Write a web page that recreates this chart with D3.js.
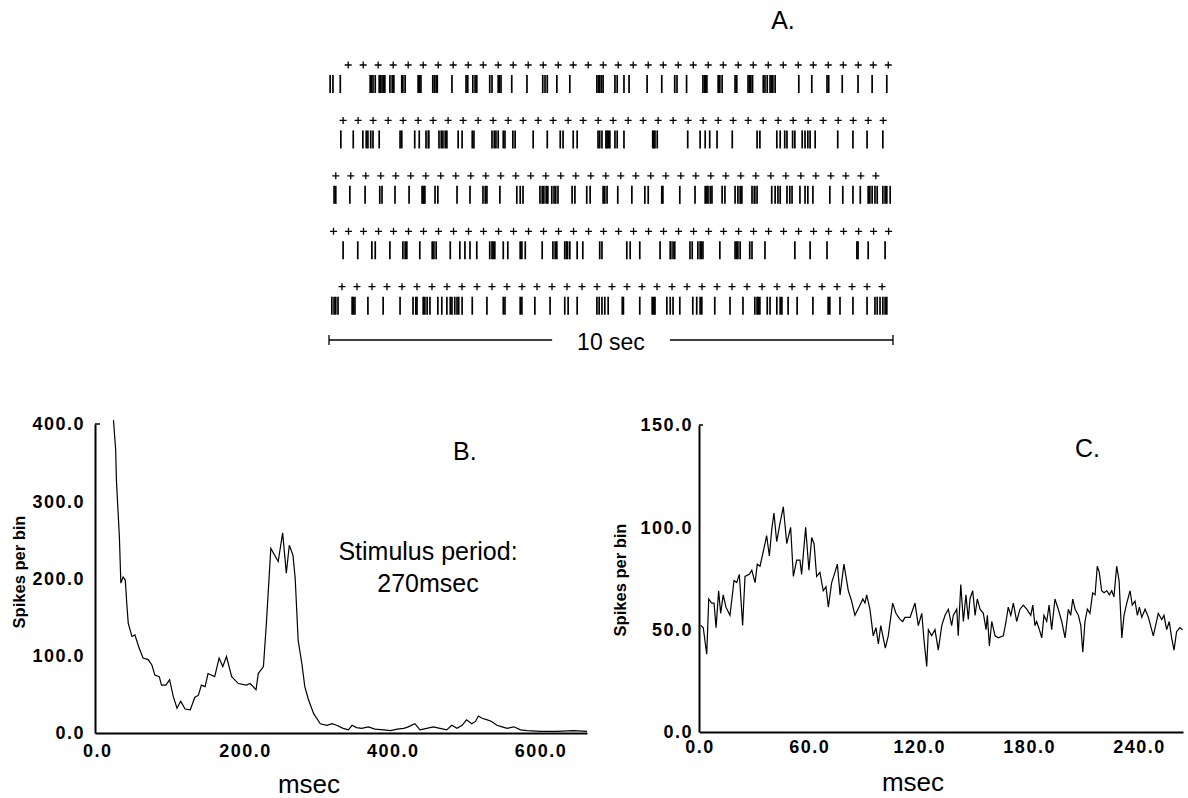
<!DOCTYPE html>
<html>
<head>
<meta charset="utf-8">
<script src="https://cdn.jsdelivr.net/npm/d3@7"></script>
<style>
  html, body { margin: 0; padding: 0; background: #fff; }
  svg { display: block; }
  text { font-family: "Liberation Sans", Arial, Helvetica, sans-serif; fill: #000; }
</style>
</head>
<body>
<svg id="fig" width="1188" height="798"></svg>
<script>
// ---- A. spike raster: five 10-second sweeps (spike times in seconds) ----
const spikesTrial1 = [0.02,0.07,0.20,0.73,0.75,0.78,0.82,0.89,0.91,0.94,0.97,0.99,1.08,1.12,1.15,1.29,1.31,1.35,1.58,1.60,1.63,1.84,1.87,1.90,1.92,2.18,2.43,2.46,2.55,2.59,2.62,2.85,2.89,3.00,3.02,3.05,3.24,3.51,3.79,3.83,3.87,4.04,4.27,4.75,4.78,4.80,4.83,4.86,5.07,5.11,5.23,5.32,5.64,5.90,6.13,6.17,6.34,6.63,6.66,6.68,6.70,6.90,6.93,6.97,7.20,7.23,7.43,7.46,7.48,7.51,7.70,7.73,7.77,7.82,7.85,7.87,7.91,8.33,8.56,8.83,8.86,9.10,9.38,9.63,9.89];
const spikesTrial2 = [0.21,0.43,0.60,0.66,0.69,0.74,0.78,0.89,1.26,1.29,1.52,1.60,1.72,1.76,1.77,1.95,1.99,2.02,2.06,2.09,2.29,2.36,2.54,2.57,2.89,2.93,2.96,3.00,3.09,3.12,3.26,3.30,3.62,3.87,4.10,4.15,4.33,4.40,4.77,4.80,4.84,4.91,4.93,4.95,4.98,5.07,5.11,5.23,5.74,5.76,5.78,5.82,6.36,6.58,6.67,6.75,6.88,7.15,7.59,7.64,7.94,8.00,8.08,8.12,8.22,8.26,8.39,8.44,8.49,8.53,8.62,9.02,9.29,9.54,9.82];
const spikesTrial3 = [0.09,0.12,0.37,0.64,0.90,0.94,1.17,1.42,1.65,1.67,1.68,1.70,1.88,1.93,2.27,2.50,2.73,2.77,2.80,3.03,3.33,3.39,3.44,3.74,3.78,3.81,3.85,3.88,3.95,3.99,4.02,4.06,4.31,4.36,4.57,4.63,4.86,4.89,4.93,5.12,5.37,5.60,5.66,5.90,5.92,6.22,6.49,6.67,6.70,6.72,6.76,6.79,6.97,7.02,7.20,7.25,7.29,7.32,7.50,7.54,7.55,7.59,7.85,7.91,7.96,8.00,8.12,8.17,8.21,8.35,8.44,8.49,8.58,8.88,9.11,9.29,9.42,9.56,9.59,9.63,9.68,9.72,9.82,9.86,9.89,9.95];
const spikesTrial4 = [0.25,0.51,0.76,0.82,1.08,1.31,1.35,1.38,1.61,1.83,1.86,1.90,2.15,2.32,2.41,2.50,2.62,2.85,2.89,2.91,2.94,3.09,3.17,3.39,3.42,3.48,3.78,3.97,4.01,4.04,4.18,4.21,4.23,4.27,4.40,4.50,4.80,4.84,5.28,5.34,5.51,5.87,6.05,6.06,6.10,6.13,6.40,6.44,6.54,6.58,6.60,6.63,6.93,7.20,7.23,7.25,7.29,7.46,7.50,7.73,8.26,8.53,8.83,9.36,9.38,9.56,9.86];
const spikesTrial5 = [0.05,0.09,0.12,0.16,0.41,0.43,0.46,0.69,0.96,1.26,1.49,1.54,1.56,1.67,1.70,1.74,1.79,1.93,2.00,2.09,2.15,2.18,2.23,2.27,2.30,2.36,2.54,2.80,3.09,3.12,3.39,3.42,3.65,3.92,4.18,4.24,4.40,4.75,4.79,4.84,4.89,4.95,5.20,5.22,5.51,5.73,5.76,5.78,5.99,6.05,6.10,6.22,6.45,6.52,6.58,6.61,6.84,7.11,7.34,7.55,7.59,7.61,7.64,7.77,7.82,7.94,8.00,8.03,8.14,8.30,8.58,8.85,8.88,9.06,9.29,9.54,9.68,9.72,9.77,9.82,9.86,9.89];
const trials = [spikesTrial1, spikesTrial2, spikesTrial3, spikesTrial4, spikesTrial5];

// stimulus onsets per sweep: first onset (s), number of stimuli, interval (s)
const stimFirstOnset = [0.34, 0.25, 0.12, 0.08, 0.23];
const stimCount = [37, 37, 37, 38, 37];
const stimInterval = 0.266;

// ---- B. post-stimulus time histogram ----
const binMsB = [22,25,26,30,32,35,38,40,42,47,51,56,62,69,74,78,84,87,93,98,103,108,113,119,126,132,137,141,146,150,159,165,170,175,182,191,202,207,215,218,225,229,235,245,251,256,260,265,268,272,277,281,286,293,302,311,318,324,333,340,345,351,358,367,376,388,397,406,415,421,430,437,446,455,464,473,480,487,494,500,507,512,516,521,528,534,541,548,555,564,573,582,600,622,645,663];
const spikesPerBinB = [405,366,327,254,194,202,198,168,142,125,127,112,97,95,88,75,73,62,62,69,47,32,41,31,30,46,49,62,60,77,73,97,86,99,73,64,62,64,56,77,86,142,239,222,259,207,243,230,200,120,90,60,43,25,12,10,12,10,6,4,10,7,6,8,5,4,3,5,6,8,12,4,6,8,6,4,10,6,10,17,12,15,22,19,17,15,10,8,6,8,4,3,2,2,3,2];
const yTicksB = [0, 100, 200, 300, 400];
const xTicksB = [0, 200, 400, 600];

// ---- C. period histogram ----
const binMsC = [0.7,2.1,4.0,5.1,6.7,8.0,9.1,10.5,11.6,13.0,14.5,16.7,18.9,20.4,21.8,23.6,24.9,27.2,28.6,30.4,31.6,33.1,35.8,36.7,38.2,39.5,40.7,42.2,44.0,45.8,47.7,49.8,51.3,53.1,54.9,55.8,58.0,59.8,61.3,62.6,64.0,65.8,67.6,69.1,70.4,72.2,74.0,75.3,76.8,78.9,81.3,83.1,84.9,87.7,89.2,90.4,91.3,93.1,94.9,96.4,97.7,99.0,101.5,103.1,105.5,107.3,109.5,111.0,112.2,115.0,117.7,119.5,121.4,122.6,124.1,125.0,126.8,128.6,130.4,132.3,134.1,135.9,137.7,138.6,140.5,141.3,142.7,144.1,145.5,146.8,147.7,149.2,150.5,151.7,153.2,155.0,156.5,157.2,158.3,159.6,161.4,163.2,165.9,167.4,168.6,170.0,171.4,173.2,175.0,176.8,178.7,180.9,182.0,183.2,184.1,185.6,186.9,188.1,189.6,190.9,192.3,194.1,195.9,197.8,199.6,201.4,202.7,203.8,205.1,206.9,208.2,209.3,210.5,211.8,213.2,214.7,216.0,217.2,218.3,219.6,220.9,222.4,223.8,225.1,226.3,227.8,229.1,230.6,231.8,233.3,235.1,236.3,237.8,239.1,240.2,241.5,243.3,245.1,247.8,250.5,252.4,253.6,255.1,256.5,257.8,259.1,260.5,262.3,263.8];
const spikesPerBinC = [52,51,38,65,63,63,51,69,58,67,61,57,74,73,77,52,76,77,79,73,82,81,92,96,86,99,107,93,102,110,92,100,76,84,84,77,100,79,95,92,76,78,69,71,61,73,78,82,67,82,69,64,57,62,65,63,67,60,47,51,43,52,41,47,63,58,55,54,56,56,63,52,58,45,32,50,47,50,40,52,57,60,52,57,60,47,72,54,67,55,65,69,57,65,60,58,50,57,42,54,47,46,47,54,61,57,63,54,60,62,60,57,62,52,54,50,46,57,54,62,50,65,60,54,46,60,57,65,60,57,52,39,54,60,58,68,67,81,78,69,68,69,67,69,66,81,74,46,57,63,69,62,64,57,61,56,60,56,47,58,55,57,50,54,46,40,49,51,50];
const yTicksC = [0, 50, 100, 150];
const xTicksC = [0, 60, 120, 180, 240];

const svg = d3.select("#fig");
const fmt = d3.format(".1f");

// ================= Panel A: raster =================
const tScale = d3.scaleLinear().domain([0, 10]).range([329, 893]);
const rowY = d3.scalePoint().domain(d3.range(trials.length)).range([65, 286.7]);

trials.forEach((spikes, i) => {
  const y0 = rowY(i);
  const g = svg.append("g");
  const onsets = d3.range(stimCount[i]).map(k => stimFirstOnset[i] + k * stimInterval);
  g.selectAll("path.stim").data(onsets).join("path")
    .attr("class", "stim")
    .attr("d", d => `M${tScale(d) - 3.5},${y0}h7M${tScale(d)},${y0 - 3.5}v7`)
    .attr("stroke", "#000").attr("stroke-width", 1.3).attr("fill", "none");
  g.selectAll("line.spike").data(spikes).join("line")
    .attr("class", "spike")
    .attr("x1", d => tScale(d)).attr("x2", d => tScale(d))
    .attr("y1", y0 + 10).attr("y2", y0 + 28)
    .attr("stroke", "#000").attr("stroke-width", 1.7);
});

// 10 sec scale bar
const barY = 340;
const barLabel = svg.append("text")
  .attr("x", tScale(5)).attr("y", barY + 10)
  .attr("text-anchor", "middle").style("font-size", "23px")
  .text("10 sec");
const lw = barLabel.node().getComputedTextLength();
const gap = 25;
svg.append("path")
  .attr("d", `M${tScale(0)},${barY}H${tScale(5) - lw / 2 - gap}M${tScale(5) + lw / 2 + gap},${barY}H${tScale(10)}` +
             `M${tScale(0)},${barY - 5}v10M${tScale(10)},${barY - 5}v10`)
  .attr("stroke", "#000").attr("stroke-width", 1.3).attr("fill", "none");

svg.append("text").attr("x", 783).attr("y", 29).attr("text-anchor", "middle")
  .style("font-size", "25px").text("A.");

// ================= shared axis styling =================
function styleAxis(g) {
  g.select(".domain").attr("stroke", "#000").attr("stroke-width", 2);
  g.selectAll(".tick text")
    .style("font-size", "18px").style("font-weight", "bold")
    .style("letter-spacing", "1.5px")
    .style("font-family", "\"Liberation Sans\", Arial, sans-serif")
    .attr("fill", "#000");
}

// ================= Panel B =================
const xB = d3.scaleLinear().domain([-3, 663]).range([95, 587]);
const yB = d3.scaleLinear().domain([0, 400]).range([733, 424]);

svg.append("g").attr("transform", `translate(0,${yB(0)})`)
  .call(d3.axisBottom(xB).tickValues(xTicksB).tickFormat(fmt).tickSize(0).tickSizeOuter(0).tickPadding(11))
  .call(styleAxis);
svg.append("g").attr("transform", `translate(${xB.range()[0]},0)`)
  .call(d3.axisLeft(yB).tickValues(yTicksB).tickFormat(fmt).tickSize(0).tickSizeOuter(0).tickPadding(10))
  .call(styleAxis);
// small hook at the top of the value axis
svg.append("path").attr("d", `M${xB.range()[0] + 5},${yB(400)}H${xB.range()[0]}`)
  .attr("stroke", "#000").attr("stroke-width", 1.5);

const lineB = d3.line().x((d, i) => xB(binMsB[i])).y(d => yB(d));
svg.append("path").datum(spikesPerBinB)
  .attr("d", lineB).attr("fill", "none").attr("stroke", "#000").attr("stroke-width", 1.2);

svg.append("text").attr("transform", "translate(25,572) rotate(-90)")
  .attr("text-anchor", "middle").style("font-size", "16.5px").style("font-weight", "bold")
  .text("Spikes per bin");
svg.append("text").attr("x", 309).attr("y", 793).attr("text-anchor", "middle")
  .style("font-size", "26px").text("msec");
svg.append("text").attr("x", 453).attr("y", 460).style("font-size", "25px").text("B.");
svg.append("text").attr("x", 428).attr("y", 560).attr("text-anchor", "middle")
  .style("font-size", "25px").text("Stimulus period:");
svg.append("text").attr("x", 428).attr("y", 592).attr("text-anchor", "middle")
  .style("font-size", "25px").text("270msec");

// ================= Panel C =================
const xC = d3.scaleLinear().domain([0, 264]).range([699.4, 1183]);
const yC = d3.scaleLinear().domain([0, 150]).range([732, 425]);

svg.append("g").attr("transform", `translate(0,${yC(0)})`)
  .call(d3.axisBottom(xC).tickValues(xTicksC).tickFormat(fmt).tickSize(0).tickSizeOuter(0).tickPadding(8))
  .call(styleAxis);
svg.append("g").attr("transform", `translate(699,0)`)
  .call(d3.axisLeft(yC).tickValues(yTicksC).tickFormat(fmt).tickSize(0).tickSizeOuter(0).tickPadding(6))
  .call(styleAxis);
svg.append("path").attr("d", `M703,${yC(150)}H699`)
  .attr("stroke", "#000").attr("stroke-width", 1.5);

const lineC = d3.line().x((d, i) => xC(binMsC[i])).y(d => yC(d));
svg.append("path").datum(spikesPerBinC)
  .attr("d", lineC).attr("fill", "none").attr("stroke", "#000").attr("stroke-width", 1.2);

svg.append("text").attr("transform", "translate(626,580) rotate(-90)")
  .attr("text-anchor", "middle").style("font-size", "16.5px").style("font-weight", "bold")
  .text("Spikes per bin");
svg.append("text").attr("x", 913).attr("y", 791).attr("text-anchor", "middle")
  .style("font-size", "26px").text("msec");
svg.append("text").attr("x", 1075).attr("y", 457).style("font-size", "25px").text("C.");
</script>
</body>
</html>
